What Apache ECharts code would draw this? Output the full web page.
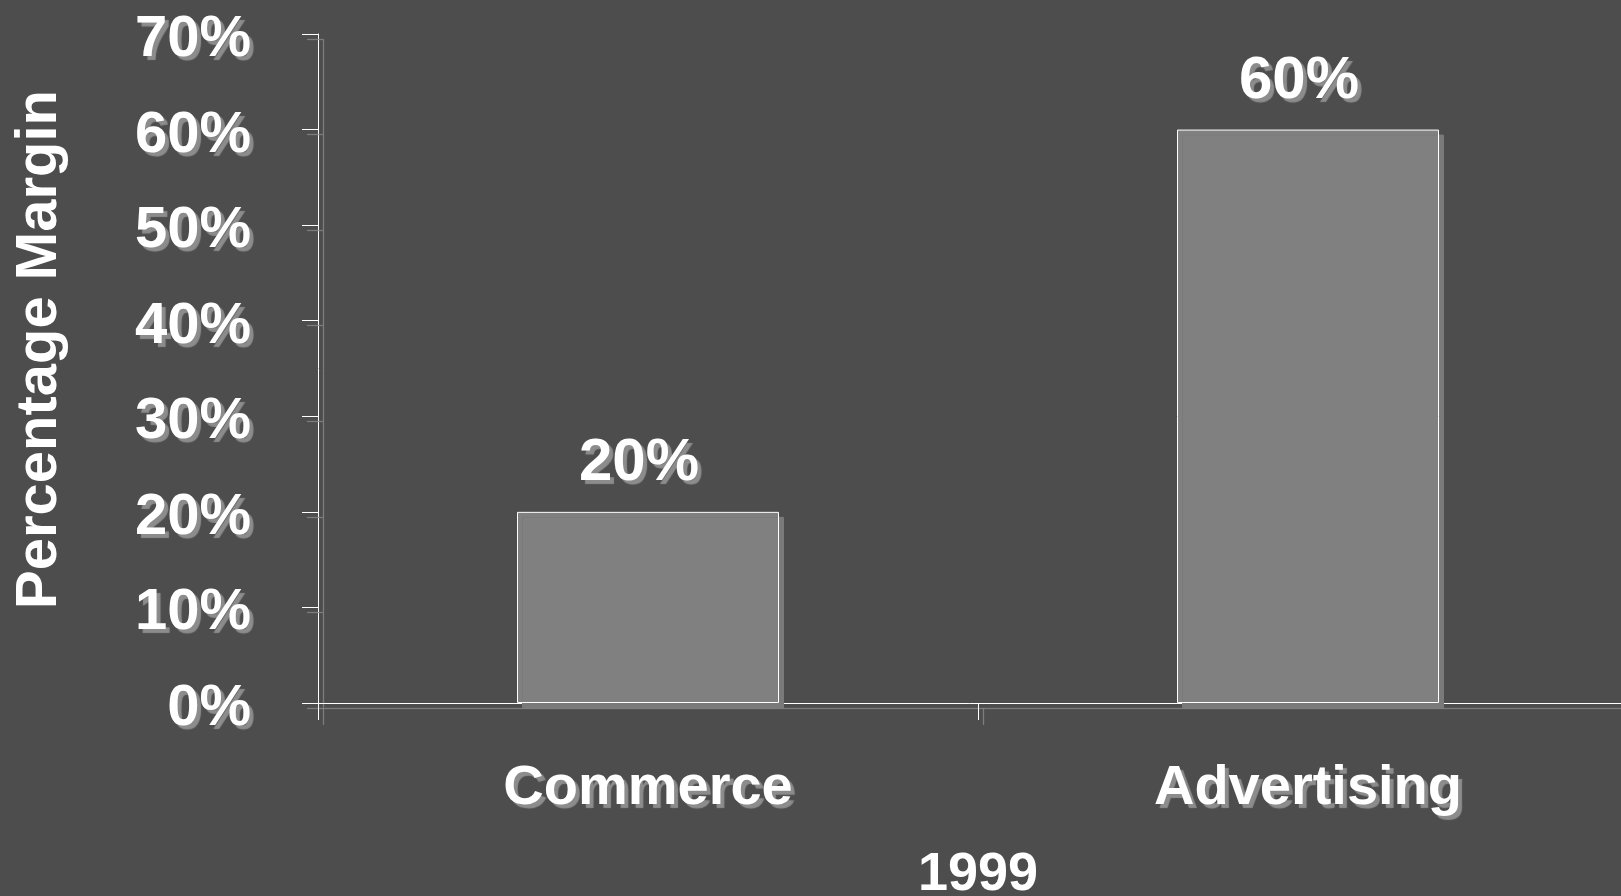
<!DOCTYPE html>
<html>
<head>
<meta charset="utf-8">
<script src="https://cdn.jsdelivr.net/npm/echarts@6/dist/echarts.min.js"></script>
<style>
  html, body { margin: 0; padding: 0; background: #4d4d4d; }
  #main { width: 1621px; height: 896px; }
</style>
</head>
<body>
<div id="main"></div>
<script>
// 数据
const categories = ['Commerce', 'Advertising'];
const margins = [20, 60];
const yearLabel = '1999';
const yTitle = 'Percentage Margin';

const chart = echarts.init(document.getElementById('main'));

// 文字阴影
const shadowText = {
  color: '#ffffff',
  fontFamily: 'Liberation Sans, Arial, sans-serif',
  fontWeight: 'bold',
  textShadowColor: '#8c8c8c',
  textShadowOffsetX: 4,
  textShadowOffsetY: 4,
  textShadowBlur: 1
};

const lineShadow = {
  color: '#ffffff',
  width: 1,
  shadowColor: '#8a8a8a',
  shadowOffsetX: 5,
  shadowOffsetY: 5,
  shadowBlur: 1
};

const option = {
  backgroundColor: '#4d4d4d',
  animation: false,
  grid: {
    left: 318,
    right: -17,
    top: 34,
    bottom: 193,
    containLabel: false,
    outerBoundsMode: 'none'
  },
  xAxis: {
    type: 'category',
    data: categories,
    name: yearLabel,
    nameLocation: 'middle',
    nameGap: 145,
    nameTextStyle: {
      color: '#ffffff',
      fontFamily: 'Liberation Sans, Arial, sans-serif',
      fontWeight: 'bold',
      fontSize: 54
    },
    axisLine: { lineStyle: lineShadow },
    axisTick: { show: true, length: 17, lineStyle: lineShadow },
    axisLabel: Object.assign({ fontSize: 56, margin: 58 }, shadowText)
  },
  yAxis: {
    type: 'value',
    min: 0,
    max: 70,
    interval: 10,
    name: yTitle,
    nameLocation: 'middle',
    nameGap: 249,
    nameTextStyle: {
      color: '#ffffff',
      fontFamily: 'Liberation Sans, Arial, sans-serif',
      fontWeight: 'bold',
      fontSize: 58,
      padding: [0, 0, 0, 38]
    },
    splitLine: { show: false },
    axisLine: { show: true, lineStyle: lineShadow },
    axisTick: { show: true, length: 16, lineStyle: lineShadow },
    axisLabel: Object.assign({
      fontSize: 58,
      margin: 67,
      formatter: '{v|{value}%}',
      rich: {
        v: Object.assign({ fontSize: 58, padding: [12, 0, 0, 0] }, shadowText)
      }
    }, shadowText)
  },
  series: [{
    type: 'bar',
    data: margins,
    barWidth: 262,
    itemStyle: {
      color: '#808080',
      borderColor: '#ffffff',
      borderWidth: 1,
      shadowColor: '#7a7a7a',
      shadowOffsetX: 5,
      shadowOffsetY: 5,
      shadowBlur: 0
    },
    label: Object.assign({
      show: true,
      position: 'top',
      distance: 18,
      offset: [-9, 0],
      fontSize: 60,
      formatter: '{c}%'
    }, shadowText)
  }]
};

chart.setOption(option);
</script>
</body>
</html>
